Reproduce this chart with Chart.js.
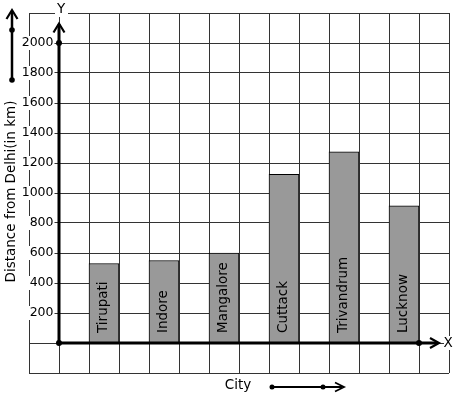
<!DOCTYPE html>
<html><head><meta charset="utf-8">
<script src="https://cdn.jsdelivr.net/npm/chart.js@4/dist/chart.umd.min.js"></script>
<style>html,body{margin:0;padding:0;background:#fff;}canvas{display:block;}</style>
</head><body>
<canvas id="c" width="457" height="399"></canvas>
<script>
const cities = ['Tirupati', 'Indore', 'Mangalore', 'Cuttack', 'Trivandrum', 'Lucknow'];
const cityPositions = [1.5, 3.5, 5.5, 7.5, 9.5, 11.5];
const distances = [530, 550, 600, 1125, 1275, 915];
const yTickLabels = [200, 400, 600, 800, 1000, 1200, 1400, 1600, 1800, 2000];
const yTitle = 'Distance from Delhi(in km)';
const xTitle = 'City';

const FONT = '"DejaVu Sans", sans-serif';

function chevron(ctx, tx, ty, dx, dy, len, half) {
  const px = -dy, py = dx;
  ctx.beginPath();
  ctx.moveTo(tx - dx * len + px * half, ty - dy * len + py * half);
  ctx.lineTo(tx, ty);
  ctx.lineTo(tx - dx * len - px * half, ty - dy * len - py * half);
  ctx.stroke();
}
function dot(ctx, x, y, r) {
  ctx.beginPath(); ctx.arc(x, y, r, 0, Math.PI * 2); ctx.fill();
}

const decor = {
  id: 'decor',
  afterDatasetsDraw(chart) {
    const ctx = chart.ctx;
    const xs = chart.scales.x, ys = chart.scales.y;
    const ca = chart.chartArea;
    const x0 = xs.getPixelForValue(0), y0 = ys.getPixelForValue(0);
    ctx.save();
    // y tick labels (from the scale's own ticks)
    ctx.font = '12.5px ' + FONT;
    ctx.textAlign = 'right';
    ctx.textBaseline = 'middle';
    ys.ticks.forEach(t => {
      if (!yTickLabels.includes(t.value)) return;
      const py = ys.getPixelForValue(t.value);
      const label = String(t.value);
      const w = ctx.measureText(label).width;
      const rx = x0 - 5.5;
      ctx.fillStyle = '#fff';
      ctx.fillRect(rx - w - 1, py - 7, w + 2, 14);
      ctx.fillStyle = '#000';
      ctx.fillText(label, rx, py);
    });
    // bar labels
    const meta = chart.getDatasetMeta(0);
    ctx.fillStyle = '#000';
    ctx.font = '13.5px ' + FONT;
    ctx.textAlign = 'left';
    ctx.textBaseline = 'middle';
    meta.data.forEach((el, i) => {
      ctx.save();
      ctx.translate(el.x - 1, y0 - 10);
      ctx.rotate(-Math.PI / 2);
      ctx.fillText(cities[i], 0, 0);
      ctx.restore();
    });
    // axes
    ctx.strokeStyle = '#000';
    ctx.lineWidth = 3;
    ctx.lineCap = 'butt';
    const yTip = ca.top + 10.5;
    ctx.beginPath(); ctx.moveTo(x0, y0); ctx.lineTo(x0, yTip + 1); ctx.stroke();
    const xTip = ca.right - 10;
    ctx.beginPath(); ctx.moveTo(x0, y0); ctx.lineTo(xTip - 1, y0); ctx.stroke();
    ctx.lineWidth = 2.2;
    ctx.lineJoin = 'miter';
    chevron(ctx, x0, yTip, 0, -1, 9, 5.5);
    chevron(ctx, xTip, y0, 1, 0, 9, 5);
    ctx.fillStyle = '#000';
    dot(ctx, x0, y0, 3);
    dot(ctx, x0, ys.getPixelForValue(2000), 3);
    dot(ctx, xs.getPixelForValue(12), y0, 3);
    // axis letters
    ctx.font = '13.5px ' + FONT;
    ctx.textAlign = 'center';
    ctx.textBaseline = 'middle';
    ctx.fillStyle = '#fff';
    ctx.fillRect(x0 - 6 + 2, ca.top - 8, 13, 12);
    ctx.fillRect(ca.right - 5, y0 - 7, 10, 14);
    ctx.fillStyle = '#000';
    ctx.fillText('Y', x0 + 2, ca.top - 4);
    ctx.fillText('X', ca.right - 1, y0);
    // y title
    ctx.save();
    ctx.translate(11, (ca.top + ca.bottom) / 2 - 1.5);
    ctx.rotate(-Math.PI / 2);
    ctx.font = '13.5px ' + FONT;
    ctx.fillText(yTitle, 0, 0);
    ctx.restore();
    // decorative y arrow
    ctx.lineWidth = 2.5;
    ctx.beginPath(); ctx.moveTo(12, 80); ctx.lineTo(12, 11); ctx.stroke();
    ctx.lineWidth = 2.2;
    chevron(ctx, 12, 10, 0, -1, 9, 5.5);
    dot(ctx, 12, 30, 2.8);
    dot(ctx, 12, 80, 2.8);
    // x title and arrow
    const cy = ca.bottom + 12;
    ctx.fillText(xTitle, 238, cy);
    ctx.lineWidth = 2;
    ctx.beginPath(); ctx.moveTo(272, cy + 2); ctx.lineTo(342, cy + 2); ctx.stroke();
    ctx.lineWidth = 1.8;
    chevron(ctx, 344, cy + 2, 1, 0, 9, 4.5);
    dot(ctx, 272, cy + 2, 2.5);
    dot(ctx, 323, cy + 2, 2.5);
    ctx.restore();
  }
};

new Chart(document.getElementById('c'), {
  type: 'bar',
  data: {
    datasets: [{
      data: cityPositions.map((x, i) => ({ x: x, y: distances[i] })),
      backgroundColor: '#999999',
      borderColor: '#000',
      borderWidth: 1,
      barPercentage: 1,
      categoryPercentage: 1
    }]
  },
  options: {
    responsive: false,
    animation: false,
    devicePixelRatio: 1,
    layout: { padding: { left: 29, right: 8, top: 13, bottom: 26 } },
    plugins: { legend: { display: false }, tooltip: { enabled: false } },
    scales: {
      x: {
        type: 'linear', min: -1, max: 13, offset: false,
        ticks: { stepSize: 1, display: false },
        grid: { color: '#333', lineWidth: 1, drawTicks: false, offset: false },
        border: { display: false }
      },
      y: {
        type: 'linear', position: 'left', min: -200, max: 2200,
        ticks: { stepSize: 200, display: false },
        grid: { color: '#333', lineWidth: 1, drawTicks: false },
        border: { display: false }
      }
    }
  },
  plugins: [decor]
});
</script>
</body></html>
